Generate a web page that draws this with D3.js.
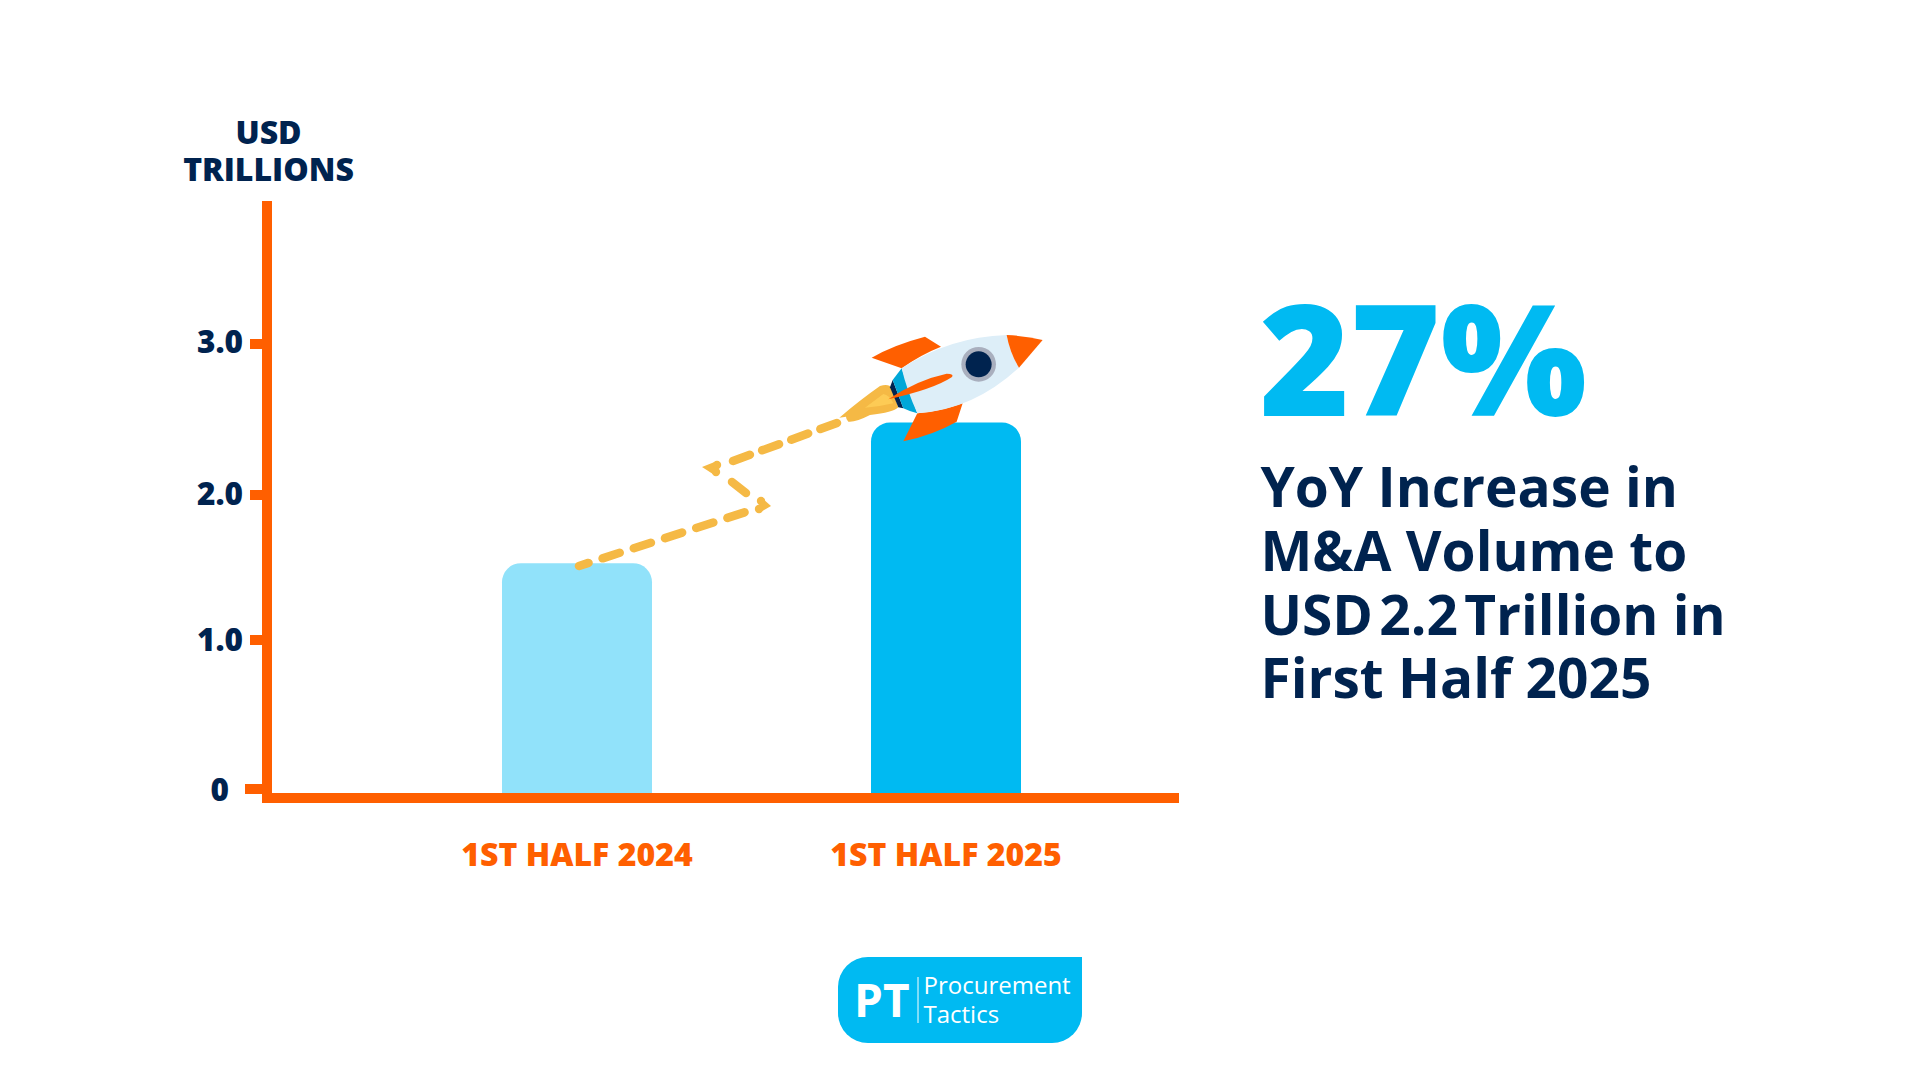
<!DOCTYPE html>
<html>
<head>
<meta charset="utf-8">
<script src="https://cdn.jsdelivr.net/npm/d3@7"></script>
<style>
  html, body { margin: 0; padding: 0; background: #fff; }
  text { font-family: "Open Sans", sans-serif; }
</style>
</head>
<body>
<svg id="chart"></svg>
<script>
const categories = ["1ST HALF 2024", "1ST HALF 2025"];
const volumes = [1.53, 2.48];
const barColors = ["#91E2FA", "#00BAF2"];
const yTicks = [0, 1, 2, 3];
const yTickLabels = ["0", "1.0", "2.0", "3.0"];
const headline = "27%";
const subLines = ["YoY Increase in", "M&A Volume to", "USD 2.2 Trillion in", "First Half 2025"];

const navy = "#00234F";
const orange = "#FF5F00";
const blue = "#00BAF2";
const dash = "#F5B945";

const width = 1920;
const height = 1080;
const svg = d3.select("#chart").attr("width", width).attr("height", height);

const x = d3.scaleBand().domain(categories).range([502, 1021]).paddingInner(0.5935).paddingOuter(0);
// the ticks in the picture are not quite evenly spaced
const y = d3.scaleLinear().domain(yTicks).range([789, 640, 495, 344]);
const baseY = 793;

// bars, only the top corners are round
const r = 19;
svg.selectAll(".bar").data(volumes).enter().append("path")
  .attr("class", "bar")
  .attr("fill", (d, i) => barColors[i])
  .attr("d", (d, i) => {
    const left = x(categories[i]);
    const right = left + x.bandwidth();
    const top = y(d);
    return `M${left},${baseY}V${top + r}A${r},${r} 0 0 1 ${left + r},${top}H${right - r}A${r},${r} 0 0 1 ${right},${top + r}V${baseY}Z`;
  });

// y axis
const yAxis = svg.append("g").attr("transform", "translate(262,0)")
  .call(d3.axisLeft(y).offset(0).tickValues(yTicks).tickFormat((d, i) => yTickLabels[i]).tickSize(12).tickPadding(7));
yAxis.select(".domain").remove();
yAxis.selectAll("line").attr("stroke", orange).attr("stroke-width", 10)
  .attr("x2", d => d === 0 ? -17 : -12);
yAxis.selectAll("text")
  .attr("fill", navy).style("font-size", "31.5px").style("font-weight", 800)
  .attr("x", d => d === 0 ? -33 : -19)
  .attr("dy", d => 12 - d);

svg.append("line").attr("x1", 267).attr("x2", 267).attr("y1", 201).attr("y2", 803)
  .attr("stroke", orange).attr("stroke-width", 10);

// x axis
const xAxis = svg.append("g").attr("transform", `translate(0,${baseY + 5})`)
  .call(d3.axisBottom(x).offset(0).tickSize(0).tickPadding(45));
xAxis.select(".domain").remove();
xAxis.selectAll("text")
  .attr("fill", orange).style("font-size", "32px").style("font-weight", 800);
svg.append("line").attr("x1", 262).attr("x2", 1179).attr("y1", 798).attr("y2", 798)
  .attr("stroke", orange).attr("stroke-width", 10);

// axis title
svg.selectAll(".unit").data(["USD", "TRILLIONS"]).enter().append("text")
  .attr("class", "unit")
  .attr("x", 268.5)
  .attr("y", (d, i) => 144 + i * 37)
  .attr("text-anchor", "middle")
  .attr("fill", navy)
  .style("font-size", "32px")
  .style("font-weight", 800)
  .text(d => d);

// dashed trail
const trail = [
  { from: [579, 566], to: [758, 508], gap: 14.8, offset: 8 },
  { from: [732, 482], to: [746, 493], gap: 0, offset: 0 },
  { from: [733, 461], to: [837, 423], gap: 13, offset: 0 }
];
svg.selectAll(".trail").data(trail).enter().append("line")
  .attr("class", "trail")
  .attr("x1", d => d.from[0]).attr("y1", d => d.from[1])
  .attr("x2", d => d.to[0]).attr("y2", d => d.to[1])
  .attr("stroke", dash).attr("stroke-width", 8.5).attr("stroke-linecap", "round")
  .attr("stroke-dasharray", d => d.gap ? `18 ${d.gap}` : null)
  .attr("stroke-dashoffset", d => d.offset);

// arrow heads: sharp tip, round shoulders
const arrowHeads = [
  { tip: [771, 506], a: [761, 501], b: [759, 509] },
  { tip: [702, 467], a: [717, 465], b: [716, 472] }
];
arrowHeads.forEach(h => {
  svg.append("path").attr("fill", dash)
    .attr("d", `M${h.tip}L${h.a[0]},${h.a[1] - 4}L${h.b[0]},${h.b[1] + 4}Z`);
  [h.a, h.b].forEach(c => {
    svg.append("circle").attr("cx", c[0]).attr("cy", c[1]).attr("r", 4.2).attr("fill", dash);
  });
});

// rocket, path numbers are in 1/3 px
const rocket = svg.append("g").attr("transform", "translate(800,300) scale(0.3333)");
const rocketParts = [
  { fill: dash, d: "M118,353Q180,300 240,258Q268,250 275,265L295,322Q280,338 210,345Q165,368 145,365Q138,358 138,350Z" },
  { fill: "#FDCB55", d: "M195,323L250,282Q268,285 280,310Q240,320 195,323Z" },
  { fill: orange, d: "M215,173Q280,135 375,110L423,140Q360,165 305,205Z" },
  { fill: orange, d: "M352,340Q420,335 488,310L470,365Q400,405 310,424Z" },
  { fill: navy, d: "M278,240L310,325L295,322L270,262Z" },
  { fill: "#00A7D8", d: "M305,205L352,340Q330,335 310,325L278,240Z" },
  { fill: "#DDEEF8", d: "M305,205Q450,110 620,105Q630,160 657,203Q520,330 352,340Q320,270 305,205Z" },
  { fill: orange, d: "M620,105Q680,108 728,120L657,203Q630,160 620,105Z" },
  { fill: orange, d: "M265,298Q350,240 440,221Q465,222 455,232Q400,268 265,298Z" }
];
rocket.selectAll("path").data(rocketParts).enter().append("path")
  .attr("fill", d => d.fill).attr("d", d => d.d);
rocket.append("circle").attr("cx", 536).attr("cy", 193).attr("r", 52).attr("fill", "#A9AFBE");
rocket.append("circle").attr("cx", 536).attr("cy", 193).attr("r", 39).attr("fill", navy);

// right side
svg.append("text").attr("x", 1259.5).attr("y", 416)
  .attr("fill", blue).style("font-size", "154.5px").style("font-weight", 800).text(headline);
const subY = [507, 571, 635, 698];
const sub = svg.selectAll(".sub").data(subLines).enter().append("text")
  .attr("class", "sub")
  .attr("x", 1260.5)
  .attr("y", (d, i) => subY[i])
  .attr("fill", navy)
  .style("font-size", "55px")
  .style("font-weight", 700);
// the spaces around 2.2 are tighter in the original
sub.each(function(d) {
  const parts = d.includes("2.2") ? ["USD", "2.2", "Trillion in"] : [d];
  d3.select(this).selectAll("tspan").data(parts).enter().append("tspan")
    .attr("dx", (p, i) => i ? -8 : 0)
    .text((p, i) => (i ? " " : "") + p);
});

// logo
const logo = svg.append("g");
logo.append("path").attr("fill", blue)
  .attr("d", "M1082,957V1013A30,30 0 0 1 1052,1043H868A30,30 0 0 1 838,1013V987A30,30 0 0 1 868,957Z");
logo.append("text").attr("x", 854).attr("y", 1017).attr("fill", "#fff")
  .style("font-size", "46px").style("font-weight", 700).text("PT");
logo.append("line").attr("x1", 918).attr("x2", 918).attr("y1", 977).attr("y2", 1023)
  .attr("stroke", "#fff").attr("stroke-width", 1);
logo.append("text").attr("x", 923.5).attr("y", 994).attr("fill", "#fff")
  .style("font-size", "24px").style("font-weight", 500).text("Procurement");
logo.append("text").attr("x", 923.5).attr("y", 1023).attr("fill", "#fff")
  .style("font-size", "24px").style("font-weight", 500).text("Tactics");
</script>
</body>
</html>
